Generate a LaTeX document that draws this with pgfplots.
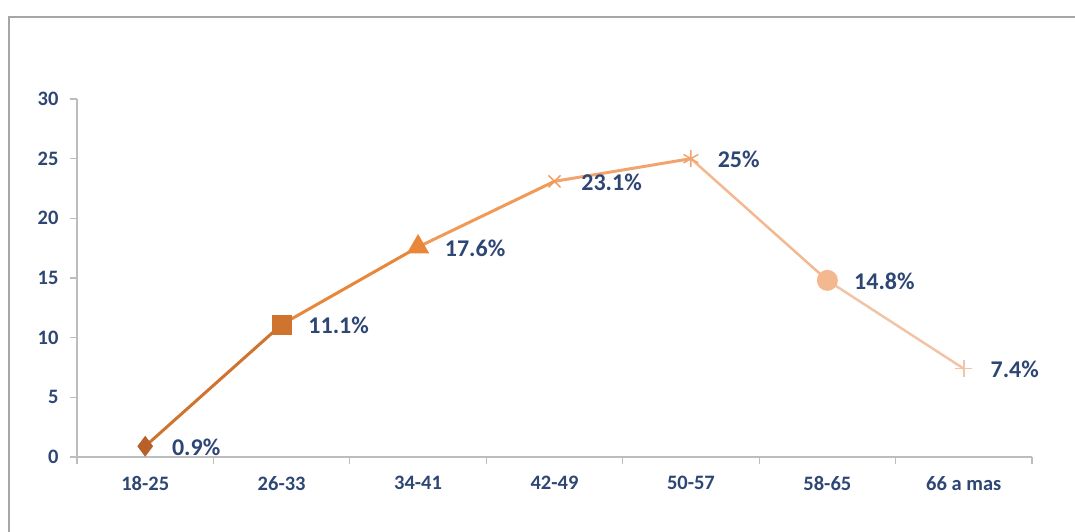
\documentclass[border=0pt]{standalone}
\usepackage{pgfplots}
\pgfplotsset{compat=1.18}
\usepackage{fontspec}
\setmainfont{Carlito}
\usetikzlibrary{plotmarks}
\definecolor{c1}{HTML}{B8602A}
\definecolor{c2}{HTML}{CF742E}
\definecolor{c3}{HTML}{E8863A}
\definecolor{c4}{HTML}{F09A55}
\definecolor{c5}{HTML}{F2A470}
\definecolor{c6}{HTML}{F4B890}
\definecolor{c7}{HTML}{F2C4A6}
\definecolor{lab}{HTML}{2E4674}
\definecolor{axg}{HTML}{BDBDBD}
\begin{document}
\begin{tikzpicture}[x=1pt,y=1pt]
\useasboundingbox (0,0) rectangle (1075,532);
\begin{scope}
\clip (0,0) rectangle (1075,532);
\draw[gray!70,line width=1.5pt] (9,-10) rectangle (1090,515);
\end{scope}
\begin{axis}[
  at={(77pt,75pt)}, anchor=south west,
  scale only axis, width=955pt, height=358pt,
  xmin=-0.5, xmax=6.5, ymin=0, ymax=30,
  axis lines=left, axis line style={axg,line width=1.5pt,-},
  separate axis lines,
  x axis line style={line width=2pt},
  xtick={-0.5,0.5,1.5,2.5,3.5,4.5,5.5,6.5}, xticklabels={},
  extra x ticks={0,...,6},
  extra x tick labels={18-25,26-33,34-41,42-49,50-57,58-65,66 a mas},
  extra x tick style={major tick length=0pt},
  ytick={0,5,...,30},
  tick align=outside,
  major tick length=7pt,
  tick style={axg,line width=1.2pt},
  tick label style={font=\fontsize{20.5}{24}\selectfont\bfseries, text=lab},
  yticklabel style={xshift=-8pt},
  xticklabel style={yshift=-16pt},
  /pgf/number format/assume math mode=true,
  clip=false,
  every axis plot/.append style={line width=3pt},
]
\addplot[c2] coordinates {(0,0.9) (1,11.1)};
\addplot[c3] coordinates {(1,11.1) (2,17.6)};
\addplot[c4] coordinates {(2,17.6) (3,23.1)};
\addplot[c5] coordinates {(3,23.1) (4,25)};
\addplot[c6,line width=2.5pt] coordinates {(4,25) (5,14.8)};
\addplot[c7,line width=2.5pt] coordinates {(5,14.8) (6,7.4)};
\addplot[only marks, mark=diamond*, mark size=8pt, c1, mark options={fill=c1}] coordinates {(0,0.9)};
\addplot[only marks, mark=square*, mark size=8.5pt, c2, mark options={fill=c2}] coordinates {(1,11.1)};
\addplot[only marks, mark=triangle*, mark size=10pt, c3, mark options={fill=c3}] coordinates {(2,17.6)};
\addplot[only marks, mark=x, mark size=8.5pt, c4, line width=1.5pt] coordinates {(3,23.1)};
\addplot[only marks, mark=asterisk, mark size=8.5pt, c5, line width=1.5pt] coordinates {(4,25)};
\addplot[only marks, mark=*, mark size=9pt, c6, mark options={fill=c6}] coordinates {(5,14.8)};
\addplot[only marks, mark=+, mark size=8.5pt, c7, line width=1.5pt] coordinates {(6,7.4)};
\addplot[only marks, mark=none,
  nodes near coords={\pgfplotspointmeta\%},
  point meta=explicit symbolic,
  nodes near coords style={anchor=west, xshift=22pt, yshift=-1pt, text=lab, font=\fontsize{24}{28}\selectfont\bfseries}]
  coordinates {(0,0.9) [0.9] (1,11.1) [11.1] (2,17.6) [17.6] (3,23.1) [23.1] (4,25) [25] (5,14.8) [14.8] (6,7.4) [7.4]};
\end{axis}
\end{tikzpicture}
\end{document}
